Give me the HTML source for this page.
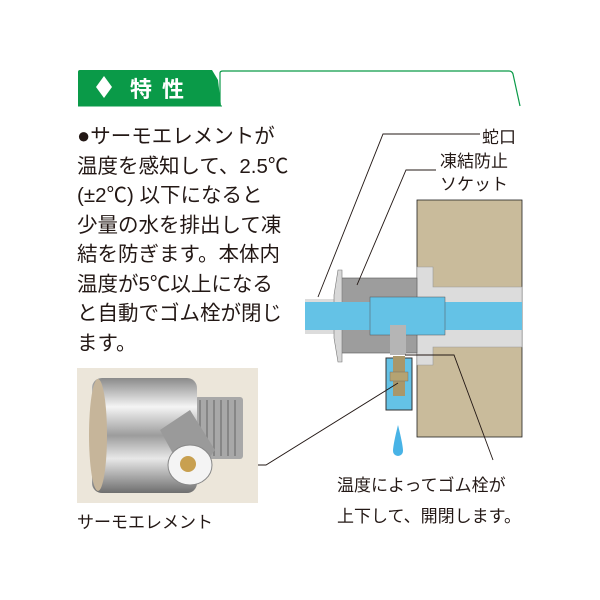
<!DOCTYPE html>
<html><head><meta charset="utf-8"><style>
body{margin:0;width:600px;height:600px;background:#fff;overflow:hidden;position:relative;font-family:"Liberation Sans","Noto Sans CJK JP",sans-serif;color:#231815}
.t{position:absolute;white-space:nowrap}
</style></head><body>
<svg width="600" height="600" style="position:absolute;left:0;top:0">
<defs>
<linearGradient id="ch" x1="0" y1="0" x2="0" y2="1">
<stop offset="0" stop-color="#8a8a8a"/><stop offset="0.25" stop-color="#f4f4f4"/><stop offset="0.5" stop-color="#9c9c9c"/><stop offset="0.7" stop-color="#e8e8e8"/><stop offset="1" stop-color="#6e6e6e"/>
</linearGradient>
</defs>
<path d="M78,72 Q78,70 80,70 L212,70 L218,80 L221,106 L78,106 Z" fill="#0a9a48"/>
<path d="M220,106 L220,73 Q220,71 223,71 L509,71 Q512,71 513,74 L520,106" fill="none" stroke="#0a9a48" stroke-width="1.2"/>
<line x1="78" y1="106" x2="222" y2="106" stroke="#0a9a48"/>
<polygon points="104,76 112,87 104,98 96,87" fill="#fff"/>
<text x="130" y="97" font-size="22" fill="#fff" font-weight="bold" letter-spacing="10" font-family="Liberation Sans,Noto Sans CJK JP,sans-serif">特性</text>
<rect x="417" y="200" width="105" height="237" fill="#c9bb9b" stroke="#222" stroke-width="0.8"/>
<path d="M417,267 L433,267 L433,287 L522,287 L522,347 L433,347 L433,365 L417,365 Z" fill="#dcdcdc" stroke="#999" stroke-width="0.6"/>
<rect x="340" y="278" width="77" height="75" fill="#9d9d9d" stroke="#555" stroke-width="0.6"/>
<rect x="305" y="299" width="35" height="35" fill="#dcdcdc"/>
<path d="M334,295 L338,270 L342,270 L342,362 L338,362 L334,338 Z" fill="#d8d8d8" stroke="#777" stroke-width="0.6"/>
<rect x="305" y="302" width="217" height="28" fill="#64c2e6"/>
<rect x="370" y="297" width="75" height="38" fill="#64c2e6" stroke="#555" stroke-width="0.5"/>
<rect x="390" y="325" width="16" height="30" fill="#b5b5b5"/>
<rect x="386" y="358" width="26" height="52" fill="#64c2e6" stroke="#333"/>
<rect x="393" y="356" width="12" height="40" fill="#a9976a"/>
<rect x="390" y="372" width="18" height="9" fill="#b5a372" stroke="#666" stroke-width="0.4"/>
<path d="M398,425 Q393,445 393,451 A5,5 0 0 0 403,451 Q403,445 398,425 Z" fill="#48b3e6"/>
<g stroke="#231815" stroke-width="0.9" fill="none">
<polyline points="318,297 383,134 480,134"/>
<polyline points="357,285 406,170 436,170"/>
<polyline points="405,355 454,355 493,460"/>
<polyline points="205,465 266,465 398,383"/>
</g>
<rect x="77" y="368" width="181" height="135" fill="#ece6da"/>
<rect x="195" y="397" width="48" height="62" rx="3" fill="#a8a8a8"/>
<g stroke="#7a7a7a" stroke-width="1.5"><line x1="200" y1="400" x2="200" y2="456"/><line x1="207" y1="400" x2="207" y2="456"/><line x1="214" y1="400" x2="214" y2="456"/><line x1="221" y1="400" x2="221" y2="456"/><line x1="228" y1="400" x2="228" y2="456"/><line x1="235" y1="400" x2="235" y2="456"/></g>
<rect x="92" y="378" width="105" height="115" rx="10" fill="url(#ch)"/>
<ellipse cx="98" cy="435" rx="9" ry="56" fill="#c6b59a"/>
<path d="M160,430 L190,410 L215,450 L190,485 Z" fill="#9a9a9a"/>
<ellipse cx="190" cy="465" rx="22" ry="20" fill="#f4f4f4" stroke="#888"/>
<circle cx="188" cy="464" r="8" fill="#c8a050"/>
</svg>
<div class="t" style="left:77px;top:121px;font-size:20.5px;line-height:29.5px"><span style="font-size:22px">●</span>サーモエレメントが<br>温度を感知して、2.5℃<br>(±2℃) 以下になると<br>少量の水を排出して凍<br>結を防ぎます。本体内<br>温度が5℃以上になる<br>と自動でゴム栓が閉じ<br>ます。</div>
<div class="t" style="left:482px;top:123px;font-size:17px">蛇口</div>
<div class="t" style="left:440px;top:150px;font-size:17px;line-height:23px">凍結防止<br>ソケット</div>
<div class="t" style="left:337px;top:470px;font-size:17px;line-height:31px">温度によってゴム栓が<br>上下して、開閉します。</div>
<div class="t" style="left:77px;top:508px;font-size:17px">サーモエレメント</div>
</body></html>
